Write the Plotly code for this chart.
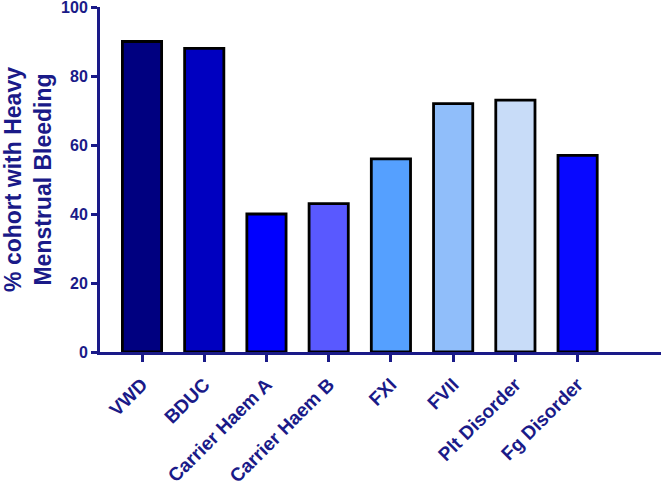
import plotly.graph_objects as go

categories = ["VWD", "BDUC", "Carrier Haem A", "Carrier Haem B", "FXI", "FVII", "Plt Disorder", "Fg Disorder"]
values = [90, 88, 40, 43, 56, 72, 73, 57]
colors = ["#000080", "#0000C0", "#0000FF", "#5959FF", "#55A0FF", "#90BEFA", "#C8DCF8", "#0808FF"]
y_ticks = [0, 20, 40, 60, 80, 100]

navy = "#1A1A88"
font_family = "Liberation Sans, Arial, sans-serif"

fig = go.Figure(go.Bar(
    x=list(range(len(categories))),
    y=values,
    width=0.63,
    marker=dict(color=colors, line=dict(color="#000000", width=2.8)),
))

fig.update_layout(
    width=661, height=488,
    margin=dict(l=100, r=0, t=7, b=136),
    plot_bgcolor="white", paper_bgcolor="white",
    showlegend=False,
    font=dict(family=font_family, color=navy, weight="bold"),
)

fig.update_xaxes(
    range=[-0.675, 8.34],
    tickmode="array",
    tickvals=list(range(len(categories))),
    ticktext=categories,
    tickangle=-45,
    ticklabelstandoff=4,
    tickfont=dict(size=19, color=navy, family=font_family, weight="bold"),
    ticks="outside", ticklen=7, tickwidth=3, tickcolor=navy,
    showline=True, linecolor=navy, linewidth=3,
    showgrid=False, zeroline=False,
)

fig.update_yaxes(
    range=[0, 100],
    tickmode="array",
    tickvals=y_ticks,
    ticklabeloverflow="allow",
    tickfont=dict(size=16, color=navy, family=font_family, weight="bold"),
    ticks="outside", ticklen=6, tickwidth=3, tickcolor=navy,
    showline=True, linecolor=navy, linewidth=3,
    showgrid=False, zeroline=False,
    title=dict(text="% cohort with Heavy<br>Menstrual Bleeding",
               font=dict(size=23, color=navy, family=font_family, weight="bold"),
               standoff=13),
)

fig.write_html("out.html")
